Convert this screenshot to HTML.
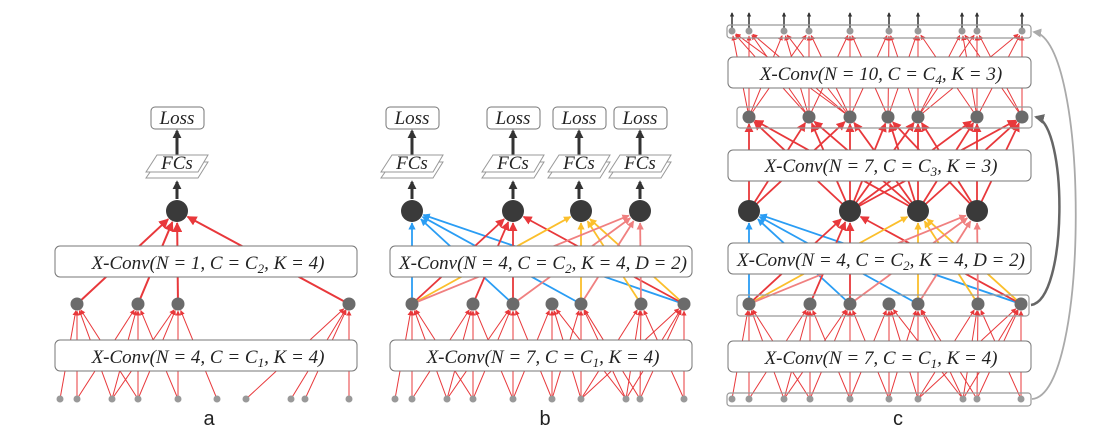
<!DOCTYPE html>
<html><head><meta charset="utf-8"><style>
html,body{margin:0;padding:0;background:#fff;width:1093px;height:446px;overflow:hidden}
svg{display:block}
.t{font-family:"Liberation Serif",serif;font-style:italic;font-size:19px;fill:#222}
.l{font-family:"Liberation Sans",sans-serif;font-size:20px;fill:#222}
</style></head><body>
<svg id="s" width="1093" height="446" viewBox="0 0 1093 446" xmlns="http://www.w3.org/2000/svg">
<defs>
<marker id="mr" viewBox="0 0 10 10" refX="9" refY="5" markerWidth="5" markerHeight="5" orient="auto"><path d="M0,0L10,5L0,10z" fill="#e8383b"/></marker>
<marker id="mb" viewBox="0 0 10 10" refX="9" refY="5" markerWidth="4" markerHeight="4" orient="auto"><path d="M0,0L10,5L0,10z" fill="#2a9df4"/></marker>
<marker id="my" viewBox="0 0 10 10" refX="9" refY="5" markerWidth="4" markerHeight="4" orient="auto"><path d="M0,0L10,5L0,10z" fill="#fbbf2c"/></marker>
<marker id="mp" viewBox="0 0 10 10" refX="9" refY="5" markerWidth="4" markerHeight="4" orient="auto"><path d="M0,0L10,5L0,10z" fill="#f08080"/></marker>
<marker id="mk" viewBox="0 0 10 10" refX="8" refY="5" markerWidth="3" markerHeight="3" orient="auto"><path d="M0,0L10,5L0,10z" fill="#333"/></marker>
<marker id="mg" viewBox="0 0 10 10" refX="8" refY="5" markerWidth="4" markerHeight="4" orient="auto"><path d="M0,0L10,5L0,10z" fill="#666"/></marker>
<marker id="ml" viewBox="0 0 10 10" refX="8" refY="5" markerWidth="5" markerHeight="5" orient="auto"><path d="M0,0L10,5L0,10z" fill="#aaa"/></marker>
</defs>
<g id="lines"></g>
<g id="boxes"></g>
<g id="dots"></g>
<g id="txt">
<text class="t" x="208" y="269" text-anchor="middle">X-Conv(N = 1, C = C<tspan font-size="13" dy="4">2</tspan><tspan dy="-4">, K = 4)</tspan></text>
<text class="t" x="208" y="363" text-anchor="middle">X-Conv(N = 4, C = C<tspan font-size="13" dy="4">1</tspan><tspan dy="-4">, K = 4)</tspan></text>
<text class="t" x="543" y="269" text-anchor="middle">X-Conv(N = 4, C = C<tspan font-size="13" dy="4">2</tspan><tspan dy="-4">, K = 4, D = 2)</tspan></text>
<text class="t" x="543" y="363" text-anchor="middle">X-Conv(N = 7, C = C<tspan font-size="13" dy="4">1</tspan><tspan dy="-4">, K = 4)</tspan></text>
<text class="t" x="881" y="266" text-anchor="middle">X-Conv(N = 4, C = C<tspan font-size="13" dy="4">2</tspan><tspan dy="-4">, K = 4, D = 2)</tspan></text>
<text class="t" x="881" y="364" text-anchor="middle">X-Conv(N = 7, C = C<tspan font-size="13" dy="4">1</tspan><tspan dy="-4">, K = 4)</tspan></text>
<text class="t" x="881" y="172" text-anchor="middle">X-Conv(N = 7, C = C<tspan font-size="13" dy="4">3</tspan><tspan dy="-4">, K = 3)</tspan></text>
<text class="t" x="881" y="80" text-anchor="middle">X-Conv(N = 10, C = C<tspan font-size="13" dy="4">4</tspan><tspan dy="-4">, K = 3)</tspan></text>
<text class="l" x="209" y="425" text-anchor="middle">a</text>
<text class="l" x="545" y="425" text-anchor="middle">b</text>
<text class="l" x="898" y="425" text-anchor="middle">c</text>
</g>
<script>
var NS="http://www.w3.org/2000/svg";
function el(p,n,a){var e=document.createElementNS(NS,n);for(var k in a)e.setAttribute(k,a[k]);document.getElementById(p).appendChild(e);return e;}
var C={r:["#e8383b","mr"],b:["#2a9df4","mb"],y:["#fbbf2c","my"],p:["#f08080","mp"]};
function ln(x1,y1,x2,y2,r,c,w){var dx=x2-x1,dy=y2-y1,d=Math.sqrt(dx*dx+dy*dy);x2-=dx/d*r;y2-=dy/d*r;el("lines","line",{x1:x1,y1:y1,x2:x2,y2:y2,stroke:C[c][0],"stroke-width":w,"marker-end":"url(#"+C[c][1]+")"});}
function dot(x,y,r,f){el("dots","circle",{cx:x,cy:y,r:r,fill:f});}
function box(x,y,w,h){el("boxes","rect",{x:x,y:y,width:w,height:h,rx:5,fill:"#fff",stroke:"#777","stroke-width":1});}
function frame(x,y,w,h){el("boxes","rect",{x:x,y:y,width:w,height:h,rx:3,fill:"none",stroke:"#999","stroke-width":1.2});}
var P=[60,77,112,138,178,217,246,291,305,349];
var M=[77,138,178,217,246,306,349];
function near(src,x,k){return src.slice().sort(function(a,b){return Math.abs(a-x)-Math.abs(b-x);}).slice(0,k);}
function lvl1(o,mids){mids.forEach(function(m){near(P,m,4).forEach(function(p){ln(p+o,399,m+o,304,7,"r",1);});});}
function lvl2(o){var big=[[77,"b",[77,178,246,349]],[178,"r",[77,138,178,349]],[246,"y",[77,246,306,349]],[305,"p",[77,178,246,306]]];
 big.forEach(function(b){b[2].forEach(function(m){ln(m+o,304,b[0]+o,211,12,b[1],1.8);});});}
lvl1(0,[77,138,178,349]);
[77,138,178,349].forEach(function(m){ln(m,304,177,211,12,"r",2);});
lvl1(335,M);lvl2(335);lvl1(672,M);lvl2(672);
var B=[749,850,918,977],U=[749,809,850,888,918,977,1022],T=[732,749,784,809,850,889,918,962,977,1022];
U.forEach(function(u){near(B,u,3).forEach(function(b){ln(b,211,u,117,7,"r",1.8);});});
T.forEach(function(t){near(U,t,3).forEach(function(u){ln(u,117,t,31,5,"r",1);});});
T.forEach(function(t){el("lines","line",{x1:t,y1:28,x2:t,y2:13,stroke:"#333","stroke-width":1.5,"marker-end":"url(#mk)"});});
box(55,246,302,31);box(55,340,302,31);
box(390,246,302,31);box(390,340,302,31);
box(728,243,303,31);box(728,341,303,31);box(728,150,303,31);box(728,57,303,31);
frame(727,393,304,13);frame(737,295,292,21);frame(737,107,295,21);frame(727,25,304,13);
P.forEach(function(p){dot(p,399,3.5,"#999");dot(p+335,399,3.5,"#999");dot(p+672,399,3.5,"#999");});
[77,138,178,349].forEach(function(m){dot(m,304,6.5,"#6b6b6b");});
M.forEach(function(m){dot(m+335,304,6.5,"#6b6b6b");dot(m+672,304,6.5,"#6b6b6b");});
U.forEach(function(u){dot(u,117,6.5,"#6b6b6b");});
T.forEach(function(t){dot(t,31,3.5,"#999");});
[177].concat([412,513,581,640],B).forEach(function(x){dot(x,211,11,"#3a3a3a");});
function head(x){
 el("boxes","line",{x1:x,y1:199,x2:x,y2:182,stroke:"#333","stroke-width":3,"marker-end":"url(#mk)"});
 el("boxes","line",{x1:x,y1:155,x2:x,y2:131,stroke:"#333","stroke-width":3,"marker-end":"url(#mk)"});
 el("boxes","path",{d:"M"+(x-20)+",162 L"+(x+31)+",162 L"+(x+21)+",178 L"+(x-31)+",178 Z",fill:"#fff",stroke:"#999"});
 el("boxes","path",{d:"M"+(x-20)+",155 L"+(x+31)+",155 L"+(x+21)+",172 L"+(x-31)+",172 Z",fill:"#fff",stroke:"#999"});
 var t=el("boxes","text",{x:x,y:169,"text-anchor":"middle","class":"t"});t.textContent="FCs";
 el("boxes","rect",{x:x-26,y:107,width:53,height:22,rx:4,fill:"#fff",stroke:"#777"});
 var t2=el("boxes","text",{x:x,y:124,"text-anchor":"middle","class":"t"});t2.textContent="Loss";
}
[177,412,513,579,640].forEach(head);
el("boxes","path",{d:"M1031,305 C1068,300 1068,125 1036,117",fill:"none",stroke:"#666","stroke-width":2.5,"marker-end":"url(#mg)"});
el("boxes","path",{d:"M1032,399 C1090,395 1090,40 1034,32",fill:"none",stroke:"#aaa","stroke-width":1.8,"marker-end":"url(#ml)"});
</script>
</svg>
</body></html>
